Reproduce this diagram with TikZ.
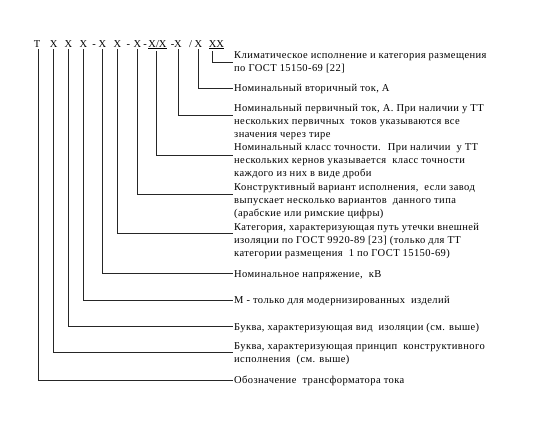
\documentclass[tikz,border=0pt]{standalone}
\usepackage{fontspec}
\setmainfont{Liberation Serif}
\newfontfamily\labfont[LetterSpace=4]{Liberation Serif}
\newcommand\mylab[1]{\begin{tabular}[t]{@{}l@{}}#1\end{tabular}}
\begin{document}
\begin{tikzpicture}[x=1pt,y=-1pt,
  ch/.style={inner sep=0pt,anchor=base,font=\fontsize{10.5}{13}\selectfont},
  lab/.style={inner sep=0pt,anchor=base west,font=\labfont\fontsize{10.5}{13}\selectfont},
  conn/.style={draw=black!85,line width=0.7pt}]
\useasboundingbox (0,0) rectangle (550,429);
% code letters
\node[ch] (c1) at (37,47) {Т};
\node[ch] (c2) at (53.7,47) {X};
\node[ch] (c3) at (68.3,47) {X};
\node[ch] (c4) at (83.3,47) {X};
\node[ch] (d1) at (94,47) {-};
\node[ch] (c5) at (102.3,47) {X};
\node[ch] (c6) at (117.3,47) {X};
\node[ch] (d2) at (128.3,47) {-};
\node[ch] (c7) at (137.3,47) {X};
\node[ch] (d3) at (145,47) {-};
\node[ch] (c8) at (157.5,47) {\underline{X/X}};
\node[ch] (d4) at (172.5,47) {-};
\node[ch] (c9) at (178,47) {X};
\node[ch] (s1) at (190.7,47) {/};
\node[ch] (c10) at (198.3,47) {X};
\node[ch] (c11) at (216.5,47) {\underline{XX}};
% labels
\node[lab] (l1) at (234,58) {\mylab{Климатическое исполнение и категория размещения\\по ГОСТ 15150-69 [22]}};
\node[lab] (l2) at (234,91) {Номинальный вторичный ток, А};
\node[lab] (l3) at (234,111) {\mylab{Номинальный первичный ток, А. При наличии у ТТ\\нескольких первичных \ токов указываются все\\значения через тире}};
\node[lab] (l4) at (234,150.5) {\mylab{Номинальный класс точности. \ При наличии \ у ТТ\\нескольких кернов указывается \ класс точности\\каждого из них в виде дроби}};
\node[lab] (l5) at (234,190.5) {\mylab{Конструктивный вариант исполнения, \ если завод\\выпускает несколько вариантов \ данного типа\\(арабские или римские цифры)}};
\node[lab] (l6) at (234,230.5) {\mylab{Категория, характеризующая путь утечки внешней\\изоляции по ГОСТ 9920-89 [23] (только для ТТ\\категории размещения \ 1 по ГОСТ 15150-69)}};
\node[lab] (l7) at (234,277) {Номинальное напряжение, \ кВ};
\node[lab] (l8) at (234,303.5) {М - только для модернизированных \ изделий};
\node[lab] (l9) at (234,330.2) {Буква, характеризующая вид \ изоляции (см. выше)};
\node[lab] (l10) at (234,349.5) {\mylab{Буква, характеризующая принцип \ конструктивного\\исполнения \ (см. выше)}};
\node[lab] (l11) at (234,383.5) {Обозначение \ трансформатора тока};
% connector ends
\coordinate (e1) at (233,62);
\coordinate (e2) at (233,88);
\coordinate (e3) at (233,115);
\coordinate (e4) at (233,155.3);
\coordinate (e5) at (233,194.3);
\coordinate (e6) at (233,233.3);
\coordinate (e7) at (233,273.5);
\coordinate (e8) at (233,300);
\coordinate (e9) at (233,326.7);
\coordinate (e10) at (233,352.8);
\coordinate (e11) at (233,380);
% connectors
\draw[conn] ([xshift=-4pt,yshift=-1.8pt]c11.south) |- (e1);
\draw[conn] ([yshift=-1.8pt]c10.south) |- (e2);
\draw[conn] ([yshift=-1.8pt]c9.south) |- (e3);
\draw[conn] ([xshift=-0.8pt,yshift=-1.8pt]c8.south) |- (e4);
\draw[conn] ([yshift=-1.8pt]c7.south) |- (e5);
\draw[conn] ([yshift=-1.8pt]c6.south) |- (e6);
\draw[conn] ([yshift=-1.8pt]c5.south) |- (e7);
\draw[conn] ([yshift=-1.8pt]c4.south) |- (e8);
\draw[conn] ([yshift=-1.8pt]c3.south) |- (e9);
\draw[conn] ([yshift=-1.8pt]c2.south) |- (e10);
\draw[conn] ([xshift=1.3pt,yshift=-1.8pt]c1.south) |- (e11);
\end{tikzpicture}
\end{document}
